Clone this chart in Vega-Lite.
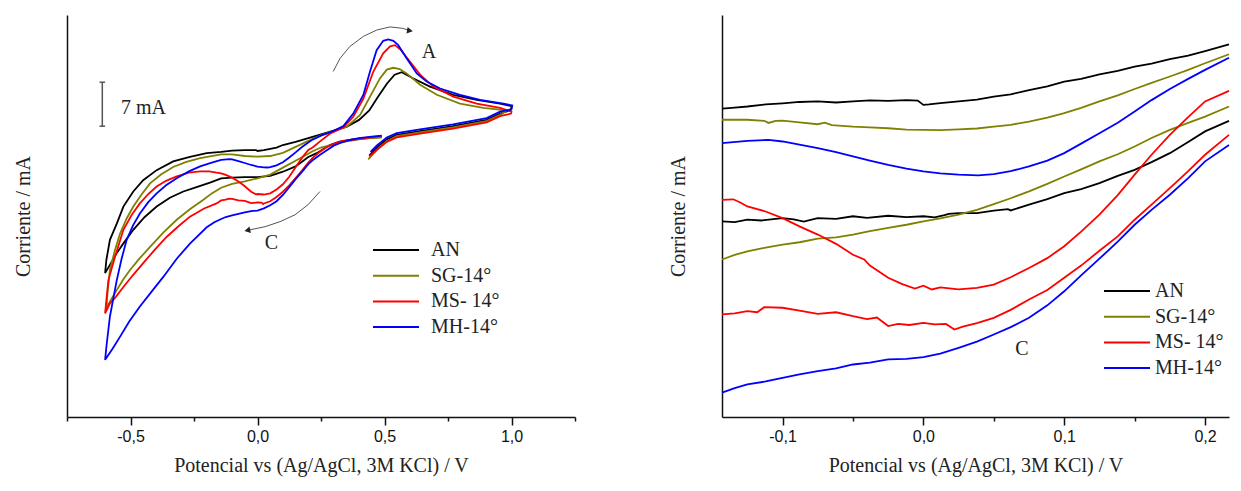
{
  "$schema": "https://vega.github.io/schema/vega-lite/v6.json",
  "padding": {"left": 13, "top": 15, "right": 5, "bottom": 5},
  "background": "white",
  "spacing": 92,
  "config": {
    "view": {"stroke": null},
    "font": "Liberation Serif",
    "axis": {"grid": false, "domainColor": "#111", "domainWidth": 1.5, "tickColor": "#111", "tickWidth": 1.5, "labelFont": "Liberation Sans", "labelFontSize": 16, "labelColor": "#111", "titleFont": "Liberation Serif", "titleFontSize": 20, "titleFontWeight": "normal", "titleColor": "#222"},
    "legend": {"orient": "none", "title": null, "symbolType": "M-4.6,0H4.6", "symbolSize": 100, "symbolStrokeWidth": 2, "labelFont": "Liberation Serif", "labelFontSize": 20, "labelColor": "#222", "rowPadding": 5.7}
  },
  "resolve": {"scale": {"x": "independent", "y": "independent", "color": "independent"}, "legend": {"color": "independent"}},
  "hconcat": [
    {
      "width": 508,
      "height": 402,
      "layer": [
        {
          "data": {"values": [
            {"s":"AN","x":0.489,"y":44.6},{"s":"AN","x":0.44,"y":44.4},{"s":"AN","x":0.40,"y":44.3},{"s":"AN","x":0.364,"y":44.1},{"s":"AN","x":0.32,"y":43.8},{"s":"AN","x":0.285,"y":43.3},{"s":"AN","x":0.233,"y":42.0},{"s":"AN","x":0.2,"y":41.4},{"s":"AN","x":0.15,"y":39.9},{"s":"AN","x":0.1,"y":39.05},{"s":"AN","x":0.05,"y":38.4},{"s":"AN","x":0.0,"y":38.2},{"s":"AN","x":-0.05,"y":38.2},{"s":"AN","x":-0.1,"y":38.1},{"s":"AN","x":-0.143,"y":38.0},{"s":"AN","x":-0.187,"y":37.3},{"s":"AN","x":-0.24,"y":36.6},{"s":"AN","x":-0.292,"y":35.9},{"s":"AN","x":-0.345,"y":34.9},{"s":"AN","x":-0.397,"y":33.5},{"s":"AN","x":-0.445,"y":31.8},{"s":"AN","x":-0.489,"y":29.8},{"s":"AN","x":-0.525,"y":27.8},{"s":"AN","x":-0.554,"y":26.1},{"s":"AN","x":-0.58,"y":24.3},{"s":"AN","x":-0.6,"y":22.9},{"s":"AN","x":-0.595,"y":25.0},{"s":"AN","x":-0.581,"y":28.2},{"s":"AN","x":-0.554,"y":30.8},{"s":"AN","x":-0.528,"y":33.5},{"s":"AN","x":-0.489,"y":35.9},{"s":"AN","x":-0.45,"y":37.7},{"s":"AN","x":-0.397,"y":39.3},{"s":"AN","x":-0.332,"y":40.7},{"s":"AN","x":-0.266,"y":41.4},{"s":"AN","x":-0.2,"y":42.0},{"s":"AN","x":-0.143,"y":42.2},{"s":"AN","x":-0.1,"y":42.4},{"s":"AN","x":-0.05,"y":42.5},{"s":"AN","x":-0.006,"y":42.5},{"s":"AN","x":0.0,"y":42.35},{"s":"AN","x":0.025,"y":42.5},{"s":"AN","x":0.05,"y":42.7},{"s":"AN","x":0.075,"y":42.9},{"s":"AN","x":0.1,"y":43.3},{"s":"AN","x":0.15,"y":43.8},{"s":"AN","x":0.2,"y":44.4},{"s":"AN","x":0.25,"y":45.0},{"s":"AN","x":0.3,"y":45.6},{"s":"AN","x":0.35,"y":46.2},{"s":"AN","x":0.4,"y":47.3},{"s":"AN","x":0.44,"y":48.8},{"s":"AN","x":0.47,"y":50.7},{"s":"AN","x":0.51,"y":53.1},{"s":"AN","x":0.54,"y":54.5},{"s":"AN","x":0.568,"y":54.9},{"s":"AN","x":0.614,"y":53.9},{"s":"AN","x":0.679,"y":52.6},{"s":"AN","x":0.771,"y":51.3},{"s":"AN","x":0.863,"y":50.5},{"s":"AN","x":0.955,"y":49.9},{"s":"AN","x":1.0,"y":49.5},{"s":"AN","x":0.998,"y":48.9},{"s":"AN","x":0.955,"y":48.3},{"s":"AN","x":0.902,"y":47.3},{"s":"AN","x":0.77,"y":46.3},{"s":"AN","x":0.64,"y":45.5},{"s":"AN","x":0.548,"y":44.9},{"s":"AN","x":0.509,"y":44.2},{"s":"AN","x":0.469,"y":42.9},{"s":"AN","x":0.44,"y":41.6},

            {"s":"SG-14°","x":0.489,"y":44.5},{"s":"SG-14°","x":0.44,"y":44.4},{"s":"SG-14°","x":0.4,"y":44.2},{"s":"SG-14°","x":0.35,"y":43.9},{"s":"SG-14°","x":0.3,"y":43.4},{"s":"SG-14°","x":0.25,"y":42.9},{"s":"SG-14°","x":0.217,"y":42.3},{"s":"SG-14°","x":0.2,"y":41.9},{"s":"SG-14°","x":0.15,"y":40.8},{"s":"SG-14°","x":0.1,"y":39.7},{"s":"SG-14°","x":0.05,"y":38.6},{"s":"SG-14°","x":0.0,"y":38.0},{"s":"SG-14°","x":-0.05,"y":37.5},{"s":"SG-14°","x":-0.1,"y":37.1},{"s":"SG-14°","x":-0.143,"y":36.5},{"s":"SG-14°","x":-0.18,"y":35.6},{"s":"SG-14°","x":-0.213,"y":34.6},{"s":"SG-14°","x":-0.265,"y":33.1},{"s":"SG-14°","x":-0.318,"y":31.4},{"s":"SG-14°","x":-0.37,"y":29.4},{"s":"SG-14°","x":-0.423,"y":27.1},{"s":"SG-14°","x":-0.465,"y":25.2},{"s":"SG-14°","x":-0.502,"y":23.4},{"s":"SG-14°","x":-0.53,"y":21.8},{"s":"SG-14°","x":-0.554,"y":20.2},{"s":"SG-14°","x":-0.578,"y":18.6},{"s":"SG-14°","x":-0.595,"y":17.4},{"s":"SG-14°","x":-0.59,"y":20.0},{"s":"SG-14°","x":-0.581,"y":23.4},{"s":"SG-14°","x":-0.561,"y":26.6},{"s":"SG-14°","x":-0.541,"y":29.2},{"s":"SG-14°","x":-0.515,"y":31.6},{"s":"SG-14°","x":-0.489,"y":33.5},{"s":"SG-14°","x":-0.455,"y":35.5},{"s":"SG-14°","x":-0.423,"y":37.2},{"s":"SG-14°","x":-0.38,"y":38.6},{"s":"SG-14°","x":-0.332,"y":39.8},{"s":"SG-14°","x":-0.28,"y":40.6},{"s":"SG-14°","x":-0.226,"y":41.2},{"s":"SG-14°","x":-0.143,"y":41.8},{"s":"SG-14°","x":-0.1,"y":41.8},{"s":"SG-14°","x":-0.05,"y":41.55},{"s":"SG-14°","x":0.0,"y":41.45},{"s":"SG-14°","x":0.05,"y":41.55},{"s":"SG-14°","x":0.1,"y":42.05},{"s":"SG-14°","x":0.15,"y":43.0},{"s":"SG-14°","x":0.2,"y":43.95},{"s":"SG-14°","x":0.217,"y":44.3},{"s":"SG-14°","x":0.26,"y":45.0},{"s":"SG-14°","x":0.3,"y":45.5},{"s":"SG-14°","x":0.351,"y":46.2},{"s":"SG-14°","x":0.404,"y":48.1},{"s":"SG-14°","x":0.443,"y":51.0},{"s":"SG-14°","x":0.482,"y":53.9},{"s":"SG-14°","x":0.509,"y":55.3},{"s":"SG-14°","x":0.535,"y":55.6},{"s":"SG-14°","x":0.56,"y":55.4},{"s":"SG-14°","x":0.587,"y":54.7},{"s":"SG-14°","x":0.64,"y":52.9},{"s":"SG-14°","x":0.706,"y":51.3},{"s":"SG-14°","x":0.797,"y":49.9},{"s":"SG-14°","x":0.889,"y":49.2},{"s":"SG-14°","x":0.961,"y":48.9},{"s":"SG-14°","x":0.975,"y":48.6},{"s":"SG-14°","x":0.955,"y":48.1},{"s":"SG-14°","x":0.902,"y":47.1},{"s":"SG-14°","x":0.77,"y":46.1},{"s":"SG-14°","x":0.64,"y":45.3},{"s":"SG-14°","x":0.548,"y":44.7},{"s":"SG-14°","x":0.509,"y":43.9},{"s":"SG-14°","x":0.469,"y":42.5},{"s":"SG-14°","x":0.436,"y":41.0},

            {"s":"MS- 14°","x":0.489,"y":44.7},{"s":"MS- 14°","x":0.44,"y":44.5},{"s":"MS- 14°","x":0.4,"y":44.3},{"s":"MS- 14°","x":0.364,"y":44.1},{"s":"MS- 14°","x":0.33,"y":43.9},{"s":"MS- 14°","x":0.3,"y":43.5},{"s":"MS- 14°","x":0.27,"y":42.9},{"s":"MS- 14°","x":0.245,"y":42.2},{"s":"MS- 14°","x":0.217,"y":41.25},{"s":"MS- 14°","x":0.2,"y":40.5},{"s":"MS- 14°","x":0.175,"y":39.24},{"s":"MS- 14°","x":0.15,"y":38.05},{"s":"MS- 14°","x":0.125,"y":36.88},{"s":"MS- 14°","x":0.1,"y":35.86},{"s":"MS- 14°","x":0.075,"y":35.04},{"s":"MS- 14°","x":0.05,"y":34.35},{"s":"MS- 14°","x":0.025,"y":34.0},{"s":"MS- 14°","x":0.022,"y":33.91},{"s":"MS- 14°","x":0.016,"y":34.12},{"s":"MS- 14°","x":0.0,"y":34.16},{"s":"MS- 14°","x":-0.025,"y":34.04},{"s":"MS- 14°","x":-0.05,"y":34.41},{"s":"MS- 14°","x":-0.075,"y":34.5},{"s":"MS- 14°","x":-0.1,"y":34.73},{"s":"MS- 14°","x":-0.113,"y":34.75},{"s":"MS- 14°","x":-0.125,"y":34.6},{"s":"MS- 14°","x":-0.143,"y":34.48},{"s":"MS- 14°","x":-0.161,"y":34.0},{"s":"MS- 14°","x":-0.21,"y":33.2},{"s":"MS- 14°","x":-0.266,"y":31.9},{"s":"MS- 14°","x":-0.31,"y":30.4},{"s":"MS- 14°","x":-0.357,"y":28.7},{"s":"MS- 14°","x":-0.405,"y":26.6},{"s":"MS- 14°","x":-0.45,"y":24.5},{"s":"MS- 14°","x":-0.49,"y":22.6},{"s":"MS- 14°","x":-0.528,"y":20.7},{"s":"MS- 14°","x":-0.56,"y":19.0},{"s":"MS- 14°","x":-0.581,"y":18.1},{"s":"MS- 14°","x":-0.6,"y":16.5},{"s":"MS- 14°","x":-0.594,"y":19.0},{"s":"MS- 14°","x":-0.587,"y":21.8},{"s":"MS- 14°","x":-0.561,"y":25.5},{"s":"MS- 14°","x":-0.528,"y":29.8},{"s":"MS- 14°","x":-0.495,"y":32.2},{"s":"MS- 14°","x":-0.463,"y":34.0},{"s":"MS- 14°","x":-0.43,"y":35.5},{"s":"MS- 14°","x":-0.397,"y":36.7},{"s":"MS- 14°","x":-0.36,"y":37.6},{"s":"MS- 14°","x":-0.318,"y":38.3},{"s":"MS- 14°","x":-0.27,"y":38.9},{"s":"MS- 14°","x":-0.226,"y":39.1},{"s":"MS- 14°","x":-0.19,"y":39.1},{"s":"MS- 14°","x":-0.161,"y":38.9},{"s":"MS- 14°","x":-0.143,"y":38.8},{"s":"MS- 14°","x":-0.125,"y":38.55},{"s":"MS- 14°","x":-0.1,"y":38.11},{"s":"MS- 14°","x":-0.075,"y":37.49},{"s":"MS- 14°","x":-0.05,"y":36.73},{"s":"MS- 14°","x":-0.025,"y":35.86},{"s":"MS- 14°","x":-0.006,"y":35.45},{"s":"MS- 14°","x":0.0,"y":35.5},{"s":"MS- 14°","x":0.025,"y":35.42},{"s":"MS- 14°","x":0.05,"y":35.6},{"s":"MS- 14°","x":0.075,"y":36.23},{"s":"MS- 14°","x":0.1,"y":37.05},{"s":"MS- 14°","x":0.125,"y":38.24},{"s":"MS- 14°","x":0.15,"y":39.75},{"s":"MS- 14°","x":0.175,"y":41.25},{"s":"MS- 14°","x":0.2,"y":42.51},{"s":"MS- 14°","x":0.217,"y":42.91},{"s":"MS- 14°","x":0.25,"y":44.0},{"s":"MS- 14°","x":0.285,"y":45.1},{"s":"MS- 14°","x":0.338,"y":46.1},{"s":"MS- 14°","x":0.377,"y":47.8},{"s":"MS- 14°","x":0.417,"y":50.7},{"s":"MS- 14°","x":0.456,"y":55.0},{"s":"MS- 14°","x":0.495,"y":57.9},{"s":"MS- 14°","x":0.522,"y":59.0},{"s":"MS- 14°","x":0.541,"y":59.2},{"s":"MS- 14°","x":0.565,"y":58.4},{"s":"MS- 14°","x":0.6,"y":56.6},{"s":"MS- 14°","x":0.64,"y":54.5},{"s":"MS- 14°","x":0.692,"y":52.6},{"s":"MS- 14°","x":0.771,"y":51.0},{"s":"MS- 14°","x":0.863,"y":49.9},{"s":"MS- 14°","x":0.955,"y":49.2},{"s":"MS- 14°","x":1.0,"y":48.6},{"s":"MS- 14°","x":0.998,"y":48.3},{"s":"MS- 14°","x":0.955,"y":47.9},{"s":"MS- 14°","x":0.902,"y":46.9},{"s":"MS- 14°","x":0.77,"y":45.9},{"s":"MS- 14°","x":0.64,"y":45.1},{"s":"MS- 14°","x":0.548,"y":44.5},{"s":"MS- 14°","x":0.509,"y":43.8},{"s":"MS- 14°","x":0.469,"y":42.5},{"s":"MS- 14°","x":0.44,"y":41.5},

            {"s":"MH-14°","x":0.489,"y":44.8},{"s":"MH-14°","x":0.44,"y":44.6},{"s":"MH-14°","x":0.4,"y":44.4},{"s":"MH-14°","x":0.364,"y":44.1},{"s":"MH-14°","x":0.33,"y":43.7},{"s":"MH-14°","x":0.3,"y":43.2},{"s":"MH-14°","x":0.27,"y":42.4},{"s":"MH-14°","x":0.245,"y":41.7},{"s":"MH-14°","x":0.217,"y":40.87},{"s":"MH-14°","x":0.2,"y":40.25},{"s":"MH-14°","x":0.175,"y":39.0},{"s":"MH-14°","x":0.15,"y":37.86},{"s":"MH-14°","x":0.125,"y":36.58},{"s":"MH-14°","x":0.1,"y":35.35},{"s":"MH-14°","x":0.075,"y":34.35},{"s":"MH-14°","x":0.05,"y":33.72},{"s":"MH-14°","x":0.025,"y":33.22},{"s":"MH-14°","x":0.0,"y":32.87},{"s":"MH-14°","x":-0.025,"y":32.78},{"s":"MH-14°","x":-0.05,"y":32.59},{"s":"MH-14°","x":-0.075,"y":32.34},{"s":"MH-14°","x":-0.1,"y":32.09},{"s":"MH-14°","x":-0.125,"y":31.84},{"s":"MH-14°","x":-0.143,"y":31.53},{"s":"MH-14°","x":-0.17,"y":31.0},{"s":"MH-14°","x":-0.2,"y":30.2},{"s":"MH-14°","x":-0.266,"y":27.6},{"s":"MH-14°","x":-0.318,"y":25.2},{"s":"MH-14°","x":-0.371,"y":22.3},{"s":"MH-14°","x":-0.42,"y":19.8},{"s":"MH-14°","x":-0.463,"y":17.6},{"s":"MH-14°","x":-0.505,"y":15.2},{"s":"MH-14°","x":-0.541,"y":12.8},{"s":"MH-14°","x":-0.57,"y":10.9},{"s":"MH-14°","x":-0.6,"y":9.1},{"s":"MH-14°","x":-0.594,"y":11.5},{"s":"MH-14°","x":-0.581,"y":16.0},{"s":"MH-14°","x":-0.567,"y":19.0},{"s":"MH-14°","x":-0.554,"y":21.8},{"s":"MH-14°","x":-0.535,"y":25.2},{"s":"MH-14°","x":-0.515,"y":28.2},{"s":"MH-14°","x":-0.49,"y":30.5},{"s":"MH-14°","x":-0.463,"y":32.4},{"s":"MH-14°","x":-0.43,"y":34.2},{"s":"MH-14°","x":-0.397,"y":35.6},{"s":"MH-14°","x":-0.36,"y":36.9},{"s":"MH-14°","x":-0.318,"y":38.0},{"s":"MH-14°","x":-0.27,"y":39.1},{"s":"MH-14°","x":-0.226,"y":39.9},{"s":"MH-14°","x":-0.18,"y":40.5},{"s":"MH-14°","x":-0.143,"y":40.94},{"s":"MH-14°","x":-0.11,"y":41.06},{"s":"MH-14°","x":-0.1,"y":41.0},{"s":"MH-14°","x":-0.075,"y":40.75},{"s":"MH-14°","x":-0.05,"y":40.44},{"s":"MH-14°","x":-0.025,"y":40.12},{"s":"MH-14°","x":0.0,"y":39.87},{"s":"MH-14°","x":0.025,"y":39.75},{"s":"MH-14°","x":0.04,"y":39.72},{"s":"MH-14°","x":0.05,"y":39.77},{"s":"MH-14°","x":0.075,"y":40.06},{"s":"MH-14°","x":0.1,"y":40.56},{"s":"MH-14°","x":0.125,"y":41.31},{"s":"MH-14°","x":0.15,"y":42.13},{"s":"MH-14°","x":0.175,"y":42.98},{"s":"MH-14°","x":0.2,"y":43.7},{"s":"MH-14°","x":0.217,"y":44.16},{"s":"MH-14°","x":0.25,"y":44.8},{"s":"MH-14°","x":0.285,"y":45.3},{"s":"MH-14°","x":0.338,"y":46.3},{"s":"MH-14°","x":0.377,"y":48.3},{"s":"MH-14°","x":0.417,"y":51.3},{"s":"MH-14°","x":0.443,"y":55.0},{"s":"MH-14°","x":0.469,"y":58.4},{"s":"MH-14°","x":0.495,"y":59.9},{"s":"MH-14°","x":0.515,"y":60.1},{"s":"MH-14°","x":0.535,"y":59.9},{"s":"MH-14°","x":0.554,"y":59.2},{"s":"MH-14°","x":0.587,"y":57.1},{"s":"MH-14°","x":0.627,"y":54.7},{"s":"MH-14°","x":0.666,"y":53.4},{"s":"MH-14°","x":0.719,"y":52.3},{"s":"MH-14°","x":0.797,"y":51.3},{"s":"MH-14°","x":0.876,"y":50.5},{"s":"MH-14°","x":0.968,"y":49.9},{"s":"MH-14°","x":1.003,"y":49.6},{"s":"MH-14°","x":1.0,"y":49.0},{"s":"MH-14°","x":0.955,"y":48.6},{"s":"MH-14°","x":0.902,"y":47.6},{"s":"MH-14°","x":0.77,"y":46.6},{"s":"MH-14°","x":0.64,"y":45.8},{"s":"MH-14°","x":0.548,"y":45.2},{"s":"MH-14°","x":0.509,"y":44.5},{"s":"MH-14°","x":0.469,"y":43.2},{"s":"MH-14°","x":0.445,"y":42.2}
          ]},
          "mark": {"type": "line", "strokeWidth": 1.8},
          "encoding": {
            "x": {"field": "x", "type": "quantitative", "scale": {"domain": [-0.75, 1.25], "nice": false, "zero": false},
                  "axis": {"title": "Potencial vs (Ag/AgCl, 3M KCl) / V", "values": [-0.75, -0.5, -0.25, 0, 0.25, 0.5, 0.75, 1, 1.25],
                           "labelExpr": "abs(datum.value*2 - round(datum.value*2)) < 0.001 ? replace(replace(format(datum.value, '.1f'), '.', ','), '\u2212', '-') : ''",
                           "tickSize": {"condition": {"test": "abs(datum.value*2 - round(datum.value*2)) < 0.001", "value": 8}, "value": 4},
                           "labelPadding": 3, "titlePadding": 11, "labelFlush": false}},
            "y": {"field": "y", "type": "quantitative", "scale": {"domain": [0, 64], "nice": false, "zero": false},
                  "axis": {"title": "Corriente / mA", "ticks": false, "labels": false, "titlePadding": 34}},
            "color": {"field": "s", "type": "nominal",
                      "scale": {"domain": ["AN", "SG-14°", "MS- 14°", "MH-14°"], "range": ["#000000", "#808000", "#ff0000", "#0000ff"]},
                      "legend": {"legendX": 319, "legendY": 225, "labelOffset": 25}},
            "order": {"value": null}
          }
        },
        {
          "data": {"values": [{"x": -0.611, "y": 46.3, "y2": 53.3}]},
          "mark": {"type": "rule", "color": "#555", "strokeWidth": 1.5},
          "encoding": {"x": {"field": "x", "type": "quantitative"}, "y": {"field": "y", "type": "quantitative"}, "y2": {"field": "y2"}}
        },
        {
          "data": {"values": [{"x": -0.622, "x2": -0.6, "y": 46.3}, {"x": -0.622, "x2": -0.6, "y": 53.3}]},
          "mark": {"type": "rule", "color": "#555", "strokeWidth": 1.5},
          "encoding": {"x": {"field": "x", "type": "quantitative"}, "x2": {"field": "x2"}, "y": {"field": "y", "type": "quantitative"}}
        },
        {
          "data": {"values": [{"x": -0.449, "y": 49.2, "t": "7 mA"}, {"x": 0.675, "y": 58.1, "t": "A"}, {"x": 0.055, "y": 27.7, "t": "C"}]},
          "mark": {"type": "text", "font": "Liberation Serif", "fontSize": 20, "color": "#222", "align": "center", "baseline": "middle"},
          "encoding": {"x": {"field": "x", "type": "quantitative"}, "y": {"field": "y", "type": "quantitative"}, "text": {"field": "t"}}
        },
        {
          "data": {"values": [
            {"a": "top", "x": 0.298, "y": 55.0}, {"a": "top", "x": 0.325, "y": 57.1}, {"a": "top", "x": 0.364, "y": 59.0}, {"a": "top", "x": 0.417, "y": 60.6}, {"a": "top", "x": 0.469, "y": 61.6}, {"a": "top", "x": 0.522, "y": 62.1}, {"a": "top", "x": 0.568, "y": 61.9}, {"a": "top", "x": 0.595, "y": 61.6},
            {"a": "bottom", "x": 0.246, "y": 35.9}, {"a": "bottom", "x": 0.199, "y": 33.8}, {"a": "bottom", "x": 0.148, "y": 32.2}, {"a": "bottom", "x": 0.089, "y": 31.1}, {"a": "bottom", "x": 0.03, "y": 30.3}, {"a": "bottom", "x": -0.03, "y": 29.8}
          ]},
          "mark": {"type": "line", "color": "#555", "strokeWidth": 1},
          "encoding": {"x": {"field": "x", "type": "quantitative"}, "y": {"field": "y", "type": "quantitative"}, "detail": {"field": "a"}, "order": {"value": null}}
        },
        {
          "data": {"values": [{"x": 0.6, "y": 61.5}]},
          "mark": {"type": "point", "shape": "triangle-right", "filled": true, "size": 45, "angle": 10, "color": "#222", "opacity": 1},
          "encoding": {"x": {"field": "x", "type": "quantitative"}, "y": {"field": "y", "type": "quantitative"}}
        },
        {
          "data": {"values": [{"x": -0.04, "y": 29.7}]},
          "mark": {"type": "point", "shape": "triangle-left", "filled": true, "size": 45, "angle": -12, "color": "#222", "opacity": 1},
          "encoding": {"x": {"field": "x", "type": "quantitative"}, "y": {"field": "y", "type": "quantitative"}}
        }
      ]
    },
    {
      "width": 507,
      "height": 402,
      "layer": [
        {
          "data": {"values": [
            {"s":"AN","b":"AN_u","x":-0.143,"y":42.24},{"s":"AN","b":"AN_u","x":-0.134,"y":42.28},{"s":"AN","b":"AN_u","x":-0.125,"y":42.32},{"s":"AN","b":"AN_u","x":-0.112,"y":42.4},{"s":"AN","b":"AN_u","x":-0.1,"y":42.44},{"s":"AN","b":"AN_u","x":-0.088,"y":42.49},{"s":"AN","b":"AN_u","x":-0.075,"y":42.51},{"s":"AN","b":"AN_u","x":-0.062,"y":42.47},{"s":"AN","b":"AN_u","x":-0.05,"y":42.51},{"s":"AN","b":"AN_u","x":-0.038,"y":42.55},{"s":"AN","b":"AN_u","x":-0.025,"y":42.53},{"s":"AN","b":"AN_u","x":-0.012,"y":42.56},{"s":"AN","b":"AN_u","x":-0.004,"y":42.54},{"s":"AN","b":"AN_u","x":0.0,"y":42.38},{"s":"AN","b":"AN_u","x":0.004,"y":42.4},{"s":"AN","b":"AN_u","x":0.012,"y":42.45},{"s":"AN","b":"AN_u","x":0.025,"y":42.51},{"s":"AN","b":"AN_u","x":0.038,"y":42.58},{"s":"AN","b":"AN_u","x":0.05,"y":42.69},{"s":"AN","b":"AN_u","x":0.062,"y":42.78},{"s":"AN","b":"AN_u","x":0.075,"y":42.94},{"s":"AN","b":"AN_u","x":0.088,"y":43.08},{"s":"AN","b":"AN_u","x":0.1,"y":43.26},{"s":"AN","b":"AN_u","x":0.112,"y":43.36},{"s":"AN","b":"AN_u","x":0.125,"y":43.53},{"s":"AN","b":"AN_u","x":0.138,"y":43.66},{"s":"AN","b":"AN_u","x":0.15,"y":43.82},{"s":"AN","b":"AN_u","x":0.162,"y":43.94},{"s":"AN","b":"AN_u","x":0.175,"y":44.11},{"s":"AN","b":"AN_u","x":0.188,"y":44.24},{"s":"AN","b":"AN_u","x":0.2,"y":44.41},{"s":"AN","b":"AN_u","x":0.217,"y":44.66},

            {"s":"SG-14°","b":"SG_u","x":-0.143,"y":41.82},{"s":"SG-14°","b":"SG_u","x":-0.125,"y":41.82},{"s":"SG-14°","b":"SG_u","x":-0.113,"y":41.78},{"s":"SG-14°","b":"SG_u","x":-0.11,"y":41.7},{"s":"SG-14°","b":"SG_u","x":-0.105,"y":41.78},{"s":"SG-14°","b":"SG_u","x":-0.1,"y":41.79},{"s":"SG-14°","b":"SG_u","x":-0.088,"y":41.72},{"s":"SG-14°","b":"SG_u","x":-0.075,"y":41.65},{"s":"SG-14°","b":"SG_u","x":-0.07,"y":41.71},{"s":"SG-14°","b":"SG_u","x":-0.065,"y":41.62},{"s":"SG-14°","b":"SG_u","x":-0.05,"y":41.56},{"s":"SG-14°","b":"SG_u","x":-0.038,"y":41.53},{"s":"SG-14°","b":"SG_u","x":-0.025,"y":41.5},{"s":"SG-14°","b":"SG_u","x":-0.012,"y":41.45},{"s":"SG-14°","b":"SG_u","x":0.0,"y":41.44},{"s":"SG-14°","b":"SG_u","x":0.012,"y":41.43},{"s":"SG-14°","b":"SG_u","x":0.025,"y":41.46},{"s":"SG-14°","b":"SG_u","x":0.038,"y":41.49},{"s":"SG-14°","b":"SG_u","x":0.05,"y":41.56},{"s":"SG-14°","b":"SG_u","x":0.062,"y":41.63},{"s":"SG-14°","b":"SG_u","x":0.075,"y":41.75},{"s":"SG-14°","b":"SG_u","x":0.088,"y":41.9},{"s":"SG-14°","b":"SG_u","x":0.1,"y":42.07},{"s":"SG-14°","b":"SG_u","x":0.112,"y":42.27},{"s":"SG-14°","b":"SG_u","x":0.125,"y":42.51},{"s":"SG-14°","b":"SG_u","x":0.138,"y":42.74},{"s":"SG-14°","b":"SG_u","x":0.15,"y":42.98},{"s":"SG-14°","b":"SG_u","x":0.162,"y":43.21},{"s":"SG-14°","b":"SG_u","x":0.175,"y":43.45},{"s":"SG-14°","b":"SG_u","x":0.188,"y":43.7},{"s":"SG-14°","b":"SG_u","x":0.2,"y":43.95},{"s":"SG-14°","b":"SG_u","x":0.217,"y":44.29},

            {"s":"MH-14°","b":"MH_u","x":-0.143,"y":40.94},{"s":"MH-14°","b":"MH_u","x":-0.125,"y":41.02},{"s":"MH-14°","b":"MH_u","x":-0.11,"y":41.06},{"s":"MH-14°","b":"MH_u","x":-0.1,"y":41.0},{"s":"MH-14°","b":"MH_u","x":-0.088,"y":40.88},{"s":"MH-14°","b":"MH_u","x":-0.075,"y":40.75},{"s":"MH-14°","b":"MH_u","x":-0.062,"y":40.6},{"s":"MH-14°","b":"MH_u","x":-0.05,"y":40.44},{"s":"MH-14°","b":"MH_u","x":-0.038,"y":40.28},{"s":"MH-14°","b":"MH_u","x":-0.025,"y":40.12},{"s":"MH-14°","b":"MH_u","x":-0.012,"y":39.98},{"s":"MH-14°","b":"MH_u","x":0.0,"y":39.87},{"s":"MH-14°","b":"MH_u","x":0.012,"y":39.8},{"s":"MH-14°","b":"MH_u","x":0.025,"y":39.75},{"s":"MH-14°","b":"MH_u","x":0.039,"y":39.72},{"s":"MH-14°","b":"MH_u","x":0.05,"y":39.77},{"s":"MH-14°","b":"MH_u","x":0.062,"y":39.88},{"s":"MH-14°","b":"MH_u","x":0.075,"y":40.06},{"s":"MH-14°","b":"MH_u","x":0.088,"y":40.28},{"s":"MH-14°","b":"MH_u","x":0.1,"y":40.56},{"s":"MH-14°","b":"MH_u","x":0.112,"y":40.92},{"s":"MH-14°","b":"MH_u","x":0.125,"y":41.31},{"s":"MH-14°","b":"MH_u","x":0.138,"y":41.71},{"s":"MH-14°","b":"MH_u","x":0.15,"y":42.13},{"s":"MH-14°","b":"MH_u","x":0.162,"y":42.56},{"s":"MH-14°","b":"MH_u","x":0.175,"y":42.98},{"s":"MH-14°","b":"MH_u","x":0.188,"y":43.36},{"s":"MH-14°","b":"MH_u","x":0.2,"y":43.7},{"s":"MH-14°","b":"MH_u","x":0.217,"y":44.16},

            {"s":"AN","b":"AN_l","x":-0.143,"y":37.99},{"s":"AN","b":"AN_l","x":-0.134,"y":37.96},{"s":"AN","b":"AN_l","x":-0.125,"y":38.05},{"s":"AN","b":"AN_l","x":-0.115,"y":38.02},{"s":"AN","b":"AN_l","x":-0.1,"y":38.11},{"s":"AN","b":"AN_l","x":-0.092,"y":38.06},{"s":"AN","b":"AN_l","x":-0.085,"y":37.98},{"s":"AN","b":"AN_l","x":-0.075,"y":38.11},{"s":"AN","b":"AN_l","x":-0.062,"y":38.08},{"s":"AN","b":"AN_l","x":-0.05,"y":38.18},{"s":"AN","b":"AN_l","x":-0.04,"y":38.12},{"s":"AN","b":"AN_l","x":-0.025,"y":38.2},{"s":"AN","b":"AN_l","x":-0.012,"y":38.15},{"s":"AN","b":"AN_l","x":0.0,"y":38.18},{"s":"AN","b":"AN_l","x":0.008,"y":38.14},{"s":"AN","b":"AN_l","x":0.015,"y":38.22},{"s":"AN","b":"AN_l","x":0.018,"y":38.27},{"s":"AN","b":"AN_l","x":0.025,"y":38.3},{"s":"AN","b":"AN_l","x":0.038,"y":38.3},{"s":"AN","b":"AN_l","x":0.05,"y":38.39},{"s":"AN","b":"AN_l","x":0.06,"y":38.45},{"s":"AN","b":"AN_l","x":0.062,"y":38.4},{"s":"AN","b":"AN_l","x":0.075,"y":38.62},{"s":"AN","b":"AN_l","x":0.088,"y":38.83},{"s":"AN","b":"AN_l","x":0.1,"y":39.05},{"s":"AN","b":"AN_l","x":0.112,"y":39.2},{"s":"AN","b":"AN_l","x":0.125,"y":39.43},{"s":"AN","b":"AN_l","x":0.138,"y":39.7},{"s":"AN","b":"AN_l","x":0.15,"y":39.93},{"s":"AN","b":"AN_l","x":0.162,"y":40.22},{"s":"AN","b":"AN_l","x":0.175,"y":40.56},{"s":"AN","b":"AN_l","x":0.188,"y":40.98},{"s":"AN","b":"AN_l","x":0.2,"y":41.38},{"s":"AN","b":"AN_l","x":0.217,"y":41.78},

            {"s":"SG-14°","b":"SG_l","x":-0.143,"y":36.55},{"s":"SG-14°","b":"SG_l","x":-0.134,"y":36.72},{"s":"SG-14°","b":"SG_l","x":-0.125,"y":36.86},{"s":"SG-14°","b":"SG_l","x":-0.112,"y":37.0},{"s":"SG-14°","b":"SG_l","x":-0.1,"y":37.11},{"s":"SG-14°","b":"SG_l","x":-0.088,"y":37.2},{"s":"SG-14°","b":"SG_l","x":-0.075,"y":37.34},{"s":"SG-14°","b":"SG_l","x":-0.062,"y":37.38},{"s":"SG-14°","b":"SG_l","x":-0.05,"y":37.49},{"s":"SG-14°","b":"SG_l","x":-0.038,"y":37.62},{"s":"SG-14°","b":"SG_l","x":-0.025,"y":37.74},{"s":"SG-14°","b":"SG_l","x":-0.012,"y":37.86},{"s":"SG-14°","b":"SG_l","x":0.0,"y":37.99},{"s":"SG-14°","b":"SG_l","x":0.012,"y":38.1},{"s":"SG-14°","b":"SG_l","x":0.025,"y":38.24},{"s":"SG-14°","b":"SG_l","x":0.038,"y":38.42},{"s":"SG-14°","b":"SG_l","x":0.05,"y":38.64},{"s":"SG-14°","b":"SG_l","x":0.062,"y":38.86},{"s":"SG-14°","b":"SG_l","x":0.075,"y":39.12},{"s":"SG-14°","b":"SG_l","x":0.088,"y":39.4},{"s":"SG-14°","b":"SG_l","x":0.1,"y":39.68},{"s":"SG-14°","b":"SG_l","x":0.112,"y":39.95},{"s":"SG-14°","b":"SG_l","x":0.125,"y":40.25},{"s":"SG-14°","b":"SG_l","x":0.138,"y":40.52},{"s":"SG-14°","b":"SG_l","x":0.15,"y":40.81},{"s":"SG-14°","b":"SG_l","x":0.162,"y":41.13},{"s":"SG-14°","b":"SG_l","x":0.175,"y":41.44},{"s":"SG-14°","b":"SG_l","x":0.188,"y":41.7},{"s":"SG-14°","b":"SG_l","x":0.2,"y":41.94},{"s":"SG-14°","b":"SG_l","x":0.217,"y":42.32},

            {"s":"MS- 14°","b":"MS_u","x":-0.143,"y":38.8},{"s":"MS- 14°","b":"MS_u","x":-0.135,"y":38.82},{"s":"MS- 14°","b":"MS_u","x":-0.13,"y":38.7},{"s":"MS- 14°","b":"MS_u","x":-0.125,"y":38.55},{"s":"MS- 14°","b":"MS_u","x":-0.112,"y":38.36},{"s":"MS- 14°","b":"MS_u","x":-0.1,"y":38.11},{"s":"MS- 14°","b":"MS_u","x":-0.088,"y":37.8},{"s":"MS- 14°","b":"MS_u","x":-0.075,"y":37.49},{"s":"MS- 14°","b":"MS_u","x":-0.062,"y":37.14},{"s":"MS- 14°","b":"MS_u","x":-0.05,"y":36.73},{"s":"MS- 14°","b":"MS_u","x":-0.042,"y":36.55},{"s":"MS- 14°","b":"MS_u","x":-0.038,"y":36.32},{"s":"MS- 14°","b":"MS_u","x":-0.025,"y":35.86},{"s":"MS- 14°","b":"MS_u","x":-0.015,"y":35.62},{"s":"MS- 14°","b":"MS_u","x":-0.006,"y":35.45},{"s":"MS- 14°","b":"MS_u","x":0.0,"y":35.56},{"s":"MS- 14°","b":"MS_u","x":0.006,"y":35.42},{"s":"MS- 14°","b":"MS_u","x":0.012,"y":35.5},{"s":"MS- 14°","b":"MS_u","x":0.025,"y":35.42},{"s":"MS- 14°","b":"MS_u","x":0.038,"y":35.48},{"s":"MS- 14°","b":"MS_u","x":0.05,"y":35.6},{"s":"MS- 14°","b":"MS_u","x":0.062,"y":35.88},{"s":"MS- 14°","b":"MS_u","x":0.075,"y":36.23},{"s":"MS- 14°","b":"MS_u","x":0.088,"y":36.6},{"s":"MS- 14°","b":"MS_u","x":0.1,"y":37.05},{"s":"MS- 14°","b":"MS_u","x":0.112,"y":37.6},{"s":"MS- 14°","b":"MS_u","x":0.125,"y":38.24},{"s":"MS- 14°","b":"MS_u","x":0.138,"y":38.98},{"s":"MS- 14°","b":"MS_u","x":0.15,"y":39.75},{"s":"MS- 14°","b":"MS_u","x":0.162,"y":40.5},{"s":"MS- 14°","b":"MS_u","x":0.175,"y":41.25},{"s":"MS- 14°","b":"MS_u","x":0.188,"y":41.92},{"s":"MS- 14°","b":"MS_u","x":0.2,"y":42.51},{"s":"MS- 14°","b":"MS_u","x":0.217,"y":42.91},

            {"s":"MS- 14°","b":"MS_l","x":-0.143,"y":34.48},{"s":"MS- 14°","b":"MS_l","x":-0.134,"y":34.52},{"s":"MS- 14°","b":"MS_l","x":-0.125,"y":34.6},{"s":"MS- 14°","b":"MS_l","x":-0.118,"y":34.56},{"s":"MS- 14°","b":"MS_l","x":-0.113,"y":34.75},{"s":"MS- 14°","b":"MS_l","x":-0.1,"y":34.73},{"s":"MS- 14°","b":"MS_l","x":-0.088,"y":34.62},{"s":"MS- 14°","b":"MS_l","x":-0.075,"y":34.5},{"s":"MS- 14°","b":"MS_l","x":-0.062,"y":34.56},{"s":"MS- 14°","b":"MS_l","x":-0.05,"y":34.41},{"s":"MS- 14°","b":"MS_l","x":-0.04,"y":34.3},{"s":"MS- 14°","b":"MS_l","x":-0.033,"y":34.36},{"s":"MS- 14°","b":"MS_l","x":-0.025,"y":34.04},{"s":"MS- 14°","b":"MS_l","x":-0.018,"y":34.12},{"s":"MS- 14°","b":"MS_l","x":-0.01,"y":34.08},{"s":"MS- 14°","b":"MS_l","x":0.0,"y":34.16},{"s":"MS- 14°","b":"MS_l","x":0.008,"y":34.1},{"s":"MS- 14°","b":"MS_l","x":0.016,"y":34.12},{"s":"MS- 14°","b":"MS_l","x":0.022,"y":33.91},{"s":"MS- 14°","b":"MS_l","x":0.028,"y":34.02},{"s":"MS- 14°","b":"MS_l","x":0.038,"y":34.15},{"s":"MS- 14°","b":"MS_l","x":0.05,"y":34.35},{"s":"MS- 14°","b":"MS_l","x":0.062,"y":34.65},{"s":"MS- 14°","b":"MS_l","x":0.075,"y":35.04},{"s":"MS- 14°","b":"MS_l","x":0.088,"y":35.4},{"s":"MS- 14°","b":"MS_l","x":0.1,"y":35.86},{"s":"MS- 14°","b":"MS_l","x":0.112,"y":36.32},{"s":"MS- 14°","b":"MS_l","x":0.125,"y":36.88},{"s":"MS- 14°","b":"MS_l","x":0.138,"y":37.42},{"s":"MS- 14°","b":"MS_l","x":0.15,"y":38.05},{"s":"MS- 14°","b":"MS_l","x":0.162,"y":38.62},{"s":"MS- 14°","b":"MS_l","x":0.175,"y":39.24},{"s":"MS- 14°","b":"MS_l","x":0.188,"y":39.88},{"s":"MS- 14°","b":"MS_l","x":0.2,"y":40.5},{"s":"MS- 14°","b":"MS_l","x":0.217,"y":41.25},

            {"s":"MH-14°","b":"MH_l","x":-0.143,"y":31.53},{"s":"MH-14°","b":"MH_l","x":-0.134,"y":31.7},{"s":"MH-14°","b":"MH_l","x":-0.125,"y":31.84},{"s":"MH-14°","b":"MH_l","x":-0.112,"y":31.95},{"s":"MH-14°","b":"MH_l","x":-0.1,"y":32.09},{"s":"MH-14°","b":"MH_l","x":-0.088,"y":32.22},{"s":"MH-14°","b":"MH_l","x":-0.075,"y":32.34},{"s":"MH-14°","b":"MH_l","x":-0.062,"y":32.44},{"s":"MH-14°","b":"MH_l","x":-0.05,"y":32.59},{"s":"MH-14°","b":"MH_l","x":-0.038,"y":32.66},{"s":"MH-14°","b":"MH_l","x":-0.025,"y":32.78},{"s":"MH-14°","b":"MH_l","x":-0.012,"y":32.8},{"s":"MH-14°","b":"MH_l","x":0.0,"y":32.87},{"s":"MH-14°","b":"MH_l","x":0.012,"y":33.0},{"s":"MH-14°","b":"MH_l","x":0.025,"y":33.22},{"s":"MH-14°","b":"MH_l","x":0.038,"y":33.45},{"s":"MH-14°","b":"MH_l","x":0.05,"y":33.72},{"s":"MH-14°","b":"MH_l","x":0.062,"y":34.0},{"s":"MH-14°","b":"MH_l","x":0.075,"y":34.35},{"s":"MH-14°","b":"MH_l","x":0.088,"y":34.82},{"s":"MH-14°","b":"MH_l","x":0.1,"y":35.35},{"s":"MH-14°","b":"MH_l","x":0.112,"y":35.95},{"s":"MH-14°","b":"MH_l","x":0.125,"y":36.58},{"s":"MH-14°","b":"MH_l","x":0.138,"y":37.22},{"s":"MH-14°","b":"MH_l","x":0.15,"y":37.86},{"s":"MH-14°","b":"MH_l","x":0.162,"y":38.42},{"s":"MH-14°","b":"MH_l","x":0.175,"y":38.99},{"s":"MH-14°","b":"MH_l","x":0.188,"y":39.62},{"s":"MH-14°","b":"MH_l","x":0.2,"y":40.25},{"s":"MH-14°","b":"MH_l","x":0.217,"y":40.87}
          ]},
          "mark": {"type": "line", "strokeWidth": 1.8},
          "encoding": {
            "x": {"field": "x", "type": "quantitative", "scale": {"domain": [-0.143, 0.217], "nice": false, "zero": false},
                  "axis": {"title": "Potencial vs (Ag/AgCl, 3M KCl) / V", "values": [-0.1, -0.05, 0, 0.05, 0.1, 0.15, 0.2],
                           "labelExpr": "abs(datum.value*10 - round(datum.value*10)) < 0.001 ? replace(replace(format(datum.value, '.1f'), '.', ','), '\u2212', '-') : ''",
                           "tickSize": {"condition": {"test": "abs(datum.value*10 - round(datum.value*10)) < 0.001", "value": 8}, "value": 4},
                           "labelPadding": 3, "titlePadding": 11, "labelFlush": false}},
            "y": {"field": "y", "type": "quantitative", "scale": {"domain": [30.61, 45.77], "nice": false, "zero": false},
                  "axis": {"title": "Corriente / mA", "ticks": false, "labels": false, "titlePadding": 34}},
            "color": {"field": "s", "type": "nominal",
                      "scale": {"domain": ["AN", "SG-14°", "MS- 14°", "MH-14°"], "range": ["#000000", "#808000", "#ff0000", "#0000ff"]},
                      "legend": {"legendX": 395, "legendY": 266, "labelOffset": 18}},
            "detail": {"field": "b"}
          }
        },
        {
          "data": {"values": [{"x": 0.07, "y": 33.16, "t": "C"}]},
          "mark": {"type": "text", "font": "Liberation Serif", "fontSize": 20, "color": "#222", "align": "center", "baseline": "middle"},
          "encoding": {"x": {"field": "x", "type": "quantitative"}, "y": {"field": "y", "type": "quantitative"}, "text": {"field": "t"}}
        }
      ]
    }
  ]
}
